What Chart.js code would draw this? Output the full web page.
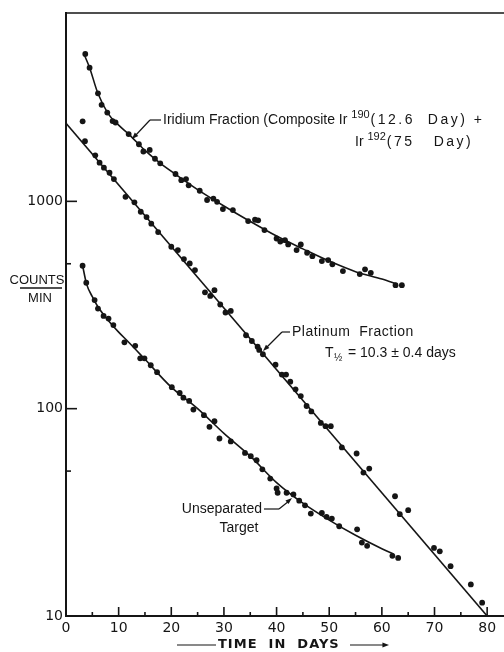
<!DOCTYPE html>
<html>
<head>
<meta charset="utf-8">
<style>
html,body{margin:0;padding:0;background:#fff}
#wrap{width:504px;height:652px}
</style>
</head>
<body>
<div id="wrap"><canvas id="decay" width="504" height="652"></canvas></div>
<script src="https://cdn.jsdelivr.net/npm/chart.js@4/dist/chart.umd.min.js"></script>
<script>
/* data: time in days, counts per minute */

const irDays=[3.66,4.48,6.07,6.76,7.84,8.85,9.41,11.9,13.85,14.7,15.9,16.9,17.9,20.8,21.9,22.8,23.3,25.4,26.8,28.0,28.7,29.8,31.7,34.6,35.9,36.5,37.7,40.0,40.7,41.6,42.2,43.8,44.6,45.8,46.8,48.6,49.8,50.6,52.6,55.8,56.8,57.9,62.6,63.8];
const irCounts=[5140,4415,3320,2920,2680,2440,2400,2110,1885,1740,1770,1605,1525,1355,1265,1280,1195,1125,1015,1030,995,918,908,803,815,810,727,662,640,650,620,582,620,565,544,515,521,497,461,446,470,452,394,394];

const ptDays=[3.16,3.6,5.56,6.38,7.2,8.27,9.1,11.3,13.0,14.2,15.3,16.2,17.5,20.0,21.25,22.4,23.5,24.5,26.4,27.4,28.2,29.3,30.3,31.3,34.2,35.3,36.4,36.7,37.4,39.8,41.0,41.8,42.6,43.6,44.6,45.7,46.6,48.4,49.3,50.3,52.4,55.2,56.5,57.6,62.5,63.4,65.0,69.9,71.0,73.05,76.9,79.05];
const ptCounts=[2433,1950,1667,1536,1453,1374,1281,1052,989,891,840,780,711,604,582,527,502,466,364,350,373,318,291,296,226,212,199,192,183,163,146,146,135,124,115,103,97,85.4,82.3,82.3,65,60.8,49.2,51.4,37.8,31.0,32.4,21.3,20.5,17.4,14.2,11.6];

const unDays=[3.15,3.85,5.43,6.07,7.14,8.08,9.0,11.1,13.15,14.1,14.9,16.1,17.3,20.1,21.6,22.3,23.4,24.2,26.2,27.25,28.2,29.15,31.3,34.0,35.1,36.2,37.3,38.8,40.0,40.2,41.9,43.2,44.3,45.4,46.5,48.6,49.5,50.5,51.9,55.3,56.2,57.2,62.0,63.1];
const unCounts=[489,405,334,304,280,272,253,209,201,175,175,162,150,127,119,113,109,99,93,81.7,87,71.8,69.5,61.2,59,56.4,51,46,41.2,39.3,39.3,38.6,36.0,34.2,31.2,31.4,30.1,29.5,27.1,26.2,22.6,21.8,19.5,19.05];

/* hand-drawn fit curves */
const irFitDays=[3.35,4.5,6,8,10,12,15,18,21,25,30,35,40,45,50,55,60,62.8];
const irFitCounts=[5180,4400,3350,2650,2330,2100,1760,1520,1340,1140,950,800,680,590,515,458,422,400];

const ptFitDays=[0,80];
const ptFitCounts=[2380,10];

const unFitDays=[3.15,3.9,5,6,8,10,12,15,20,25,30,35,40,45,50,55,60,62.2];
const unFitCounts=[490,400,347,312,267,234,208,173,127,100,76,59,44,35,29,24.5,21.1,19.9];

/* axis ticks */
const xTicks=[0,10,20,30,40,50,60,70,80];
const xMinorTicks=[5,15,25,35,45,55,65,75];
const yTicks=[10,100,1000];
const yMinorTicks=[50,500];

const ink='#151515';
const pts=(xs,ys)=>xs.map((d,i)=>({x:d,y:ys[i]}));

function dots(xs,ys){
return {type:'scatter',data:pts(xs,ys),pointRadius:2.9,pointBackgroundColor:ink,pointBorderWidth:0,showLine:false};
}
function fit(xs,ys){
return {type:'line',data:pts(xs,ys),borderColor:ink,borderWidth:1.6,pointRadius:0,fill:false,cubicInterpolationMode:'monotone'};
}

function line(ctx,x1,y1,x2,y2){
ctx.beginPath();ctx.moveTo(x1,y1);ctx.lineTo(x2,y2);ctx.stroke();
}

function arrowHead(ctx,fx,fy,tx,ty){
const a=Math.atan2(ty-fy,tx-fx);
ctx.beginPath();
ctx.moveTo(tx,ty);
ctx.lineTo(tx-7*Math.cos(a-0.35),ty-7*Math.sin(a-0.35));
ctx.lineTo(tx-7*Math.cos(a+0.35),ty-7*Math.sin(a+0.35));
ctx.closePath();ctx.fill();
}

const annotations={
id:'annotations',
afterDraw(chart){
const {ctx,chartArea:a,scales:{x,y}}=chart;
ctx.save();
ctx.strokeStyle=ink;ctx.fillStyle=ink;

// frame top
ctx.lineWidth=1.6;
line(ctx,a.left,a.top,a.right,a.top);

// inward ticks
yTicks.forEach(v=>{const p=y.getPixelForValue(v);line(ctx,a.left,p,a.left+11,p);});
yMinorTicks.forEach(v=>{const p=y.getPixelForValue(v);line(ctx,a.left,p,a.left+5,p);});
xTicks.forEach(v=>{const p=x.getPixelForValue(v);line(ctx,p,a.bottom,p,a.bottom-9);});
xMinorTicks.forEach(v=>{const p=x.getPixelForValue(v);line(ctx,p,a.bottom,p,a.bottom-4);});

ctx.lineWidth=1.2;
ctx.textBaseline='middle';
ctx.textAlign='left';
const big='14px "Liberation Sans"';
const sup='11px "Liberation Sans"';

// iridium label
ctx.font=big;
let t='Iridium Fraction (Composite ';
ctx.fillText(t,163,120);
let cx=163+ctx.measureText(t).width;
ctx.fillText('Ir',cx,120);cx+=ctx.measureText('Ir ').width;
ctx.font=sup;ctx.fillText('190',cx,115);cx+=ctx.measureText('190').width+1;
ctx.font=big;ctx.letterSpacing='2.5px';ctx.fillText('(12.6  Day) +',cx,120);
ctx.letterSpacing='0px';
cx=355;
ctx.fillText('Ir',cx,142);cx+=ctx.measureText('Ir ').width;
ctx.font=sup;ctx.fillText('192',cx,137);cx+=ctx.measureText('192').width+1;
ctx.font=big;ctx.letterSpacing='2.5px';ctx.fillText('(75   Day)',cx,142);
ctx.letterSpacing='0px';
line(ctx,161,120,150,120);
line(ctx,150,120,134,137);
arrowHead(ctx,150,120,132,139);

// platinum label
ctx.font=big;
ctx.letterSpacing='0.5px';
ctx.fillText('Platinum  Fraction',292,332);
ctx.letterSpacing='0px';
line(ctx,290,332,282,332);
line(ctx,282,332,266,348);
arrowHead(ctx,282,332,263,351);
ctx.fillText('T',325,353);
ctx.font='10px "Liberation Sans"';
ctx.fillText('\u00bd',334,358);
ctx.font=big;
ctx.fillText('= 10.3 \u00b1 0.4 days',348,353);

// unseparated label
ctx.textAlign='right';
ctx.fillText('Unseparated',262,509);
ctx.textAlign='center';
ctx.fillText('Target',239,528);
line(ctx,264,509,279,509);
line(ctx,279,509,289,501);
arrowHead(ctx,279,509,292,498);

// y title
ctx.font='13px "Liberation Sans"';
ctx.textAlign='center';
ctx.fillText('COUNTS',37,280);
ctx.lineWidth=1.4;
line(ctx,20,288,62,288);
ctx.fillText('MIN',40,298);

// x title
ctx.font='bold 13px "DejaVu Sans"';
ctx.letterSpacing='1px';
ctx.textAlign='left';
ctx.fillText('TIME  IN  DAYS',218,645);
ctx.letterSpacing='0px';
ctx.lineWidth=1.2;
line(ctx,177,645,216,645);
line(ctx,350,645,386,645);
arrowHead(ctx,350,645,389,645);

ctx.restore();
}
};

Chart.defaults.color=ink;

new Chart(document.getElementById('decay'),{
type:'scatter',
data:{
datasets:[
dots(irDays,irCounts),
dots(ptDays,ptCounts),
dots(unDays,unCounts),
fit(irFitDays,irFitCounts),
fit(ptFitDays,ptFitCounts),
fit(unFitDays,unFitCounts)
]
},
options:{
responsive:false,
animation:false,
layout:{autoPadding:false,padding:{top:13,left:0,right:0,bottom:0}},
plugins:{legend:{display:false},tooltip:{enabled:false}},
scales:{
x:{
type:'linear',
min:0,
max:83.2,
afterBuildTicks:s=>{s.ticks=xTicks.map(v=>({value:v}));},
afterFit:s=>{s.height=36;},
ticks:{padding:4,maxRotation:0,autoSkip:false,font:{family:'DejaVu Sans',size:14},callback:v=>String(v)},
grid:{display:false,drawTicks:false},
border:{display:true,color:ink,width:2}
},
y:{
type:'logarithmic',
min:10,
max:8100,
afterBuildTicks:s=>{s.ticks=yTicks.map(v=>({value:v}));},
afterFit:s=>{s.width=66;},
ticks:{padding:3,autoSkip:false,font:{family:'DejaVu Sans',size:14},callback:v=>String(v)},
grid:{display:false,drawTicks:false},
border:{display:true,color:ink,width:2}
}
}
},
plugins:[annotations]
});
</script>
</body>
</html>
